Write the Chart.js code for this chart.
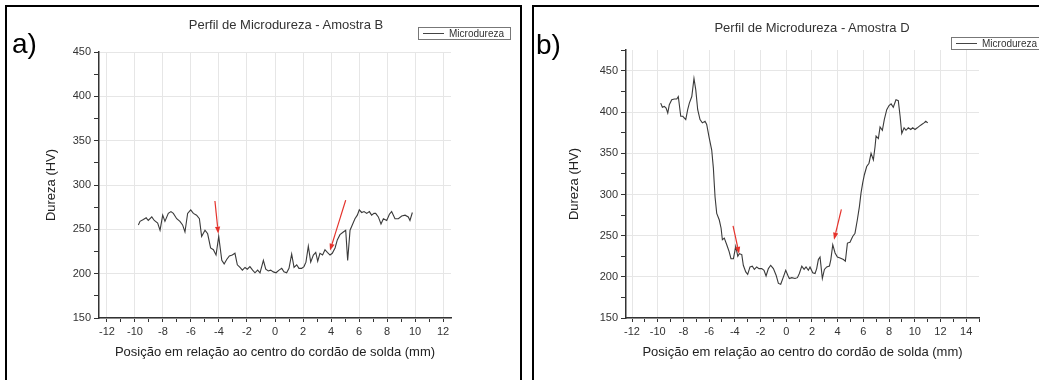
<!DOCTYPE html>
<html lang="pt">
<head>
    <meta charset="UTF-8">
    <title>Perfil de Microdureza</title>
    <script src="https://cdn.jsdelivr.net/npm/chart.js"></script>
    <style>
        html, body { margin: 0; padding: 0; background: #fff; }
        body { width: 1039px; height: 380px; position: relative; overflow: hidden;
               font-family: "Liberation Sans", Arial, sans-serif; color: #222; }
        canvas { position: absolute; top: 0; }
        .frame { position: absolute; border: 2px solid #000; box-sizing: border-box; }
        .tag { position: absolute; font-size: 28px; line-height: 28px; color: #000; }
        .title { position: absolute; width: 320px; text-align: center; font-size: 13px; line-height: 14px; color: #333; }
        .legend { position: absolute; height: 13px; border: 1px solid #777; box-sizing: border-box;
                  font-size: 10px; line-height: 11px; color: #333; white-space: nowrap; overflow: hidden; background: #fff; }
        .legend span { display: inline-block; width: 21px; height: 0; border-top: 1px solid #444;
                       vertical-align: middle; margin: 0 5px 0 4px; position: relative; top: -1px; }
    </style>
</head>
<body>
    <div class="frame" style="left:5px; top:5px; width:517px; height:390px;"></div>
    <div class="frame" style="left:532px; top:5px; width:520px; height:390px;"></div>

    <canvas id="chartA" width="520" height="380" style="left:0;"></canvas>
    <canvas id="chartB" width="507" height="380" style="left:532px;"></canvas>

    <div class="tag" style="left:12px; top:30px;">a)</div>
    <div class="tag" style="left:536px; top:31px;">b)</div>
    <div class="title" style="left:126px; top:18px;">Perfil de Microdureza - Amostra B</div>
    <div class="title" style="left:652px; top:21px;">Perfil de Microdureza - Amostra D</div>
    <div class="legend" style="left:418px; top:27px; width:93px;"><span></span>Microdureza</div>
    <div class="legend" style="left:951px; top:37px; width:95px;"><span></span>Microdureza</div>

    <script>
        // Amostra B
        const posA = [-9.76, -9.64, -9.4, -9.2, -9.05, -8.8, -8.62, -8.38, -8.21, -8.02, -7.86, -7.62, -7.43, -7.26,
            -7.02, -6.79, -6.6, -6.43, -6.24, -6.02, -5.83, -5.6, -5.4, -5.24, -5.0, -4.81, -4.6, -4.4, -4.21, -4.02,
            -3.8, -3.63, -3.45, -3.26, -3.05, -2.86, -2.69, -2.5, -2.33, -2.14, -1.98, -1.79, -1.6, -1.43, -1.24,
            -1.07, -0.83, -0.66, -0.48, -0.31, -0.12, 0.07, 0.29, 0.48, 0.64, 0.83, 1.0, 1.19, 1.36, 1.55, 1.71, 1.9,
            2.07, 2.21, 2.38, 2.55, 2.74, 2.91, 3.05, 3.21, 3.4, 3.57, 3.74, 3.93, 4.09, 4.29, 4.45, 4.64, 4.88, 5.05,
            5.19, 5.36, 5.55, 5.71, 5.88, 6.02, 6.19, 6.36, 6.55, 6.74, 6.9, 7.07, 7.19, 7.38, 7.57, 7.74, 7.98, 8.17,
            8.33, 8.57, 8.81, 9.05, 9.29, 9.52, 9.64, 9.81];
        const durA = [255, 259, 261, 263, 260, 264, 260, 257, 249, 266, 259, 268, 270, 268,
            262, 259, 255, 247, 268, 272, 268, 266, 262, 242, 249, 245, 229, 227, 221, 242,
            215, 211, 216, 220, 221, 223, 210, 207, 204, 207, 205, 208, 204, 201, 204,
            201, 215, 205, 203, 204, 202, 201, 204, 206, 202, 201, 206, 222, 207, 210, 206, 206,
            208, 213, 231, 213, 221, 224, 214, 223, 221, 227, 224, 221, 223, 229, 238, 244, 247, 249,
            215, 249, 256, 262, 266, 272, 269, 270, 268, 270, 266, 268, 268, 264, 256, 262, 260, 267,
            270, 262, 262, 265, 266, 264, 260, 269];

        // Amostra D
        const posB = [-9.77, -9.64, -9.49, -9.35, -9.22, -9.1, -8.91, -8.71, -8.52, -8.4, -8.21, -8.05, -7.82, -7.67,
            -7.54, -7.35, -7.18, -7.04, -6.89, -6.71, -6.53, -6.32, -6.19, -6.01, -5.8, -5.67, -5.62, -5.54, -5.41,
            -5.21, -5.07, -4.97, -4.82, -4.63, -4.45, -4.3, -4.11, -3.93, -3.77, -3.65, -3.46, -3.34, -3.15, -3.0,
            -2.82, -2.64, -2.48, -2.3, -2.12, -1.91, -1.73, -1.57, -1.39, -1.21, -1.0, -0.79, -0.61, -0.43, -0.22,
            -0.04, 0.12, 0.24, 0.43, 0.68, 0.87, 1.02, 1.21, 1.39, 1.54, 1.72, 1.85, 2.06, 2.24, 2.37, 2.5, 2.63,
            2.81, 2.97, 3.15, 3.36, 3.47, 3.62, 3.8, 3.98, 4.19, 4.45, 4.6, 4.76, 4.96, 5.17, 5.35, 5.53, 5.69, 5.82,
            5.95, 6.08, 6.26, 6.44, 6.6, 6.78, 6.91, 6.99, 7.17, 7.3, 7.48, 7.63, 7.82, 8.0, 8.16, 8.33, 8.54, 8.72,
            8.86, 8.99, 9.17, 9.32, 9.5, 9.69, 9.84, 10.02, 10.2, 10.36, 10.54, 10.72, 10.86, 11.01];
        const durB = [411, 406, 407, 405, 399, 409, 415, 416, 416, 419, 395, 395, 391, 403,
            411, 419, 441, 427, 403, 391, 387, 389, 385, 370, 354, 332, 318, 297, 277,
            269, 259, 245, 247, 239, 231, 222, 222, 237, 225, 228, 227, 214, 206, 203,
            212, 213, 209, 212, 210, 210, 208, 201, 210, 214, 210, 202, 192, 191, 200,
            208, 202, 198, 199, 198, 199, 204, 213, 209, 212, 208, 212, 205, 204, 210, 221, 224,
            198, 209, 212, 213, 221, 239, 229, 224, 223, 221, 219, 241, 242, 249, 253, 269, 285, 302,
            314, 324, 334, 338, 350, 342, 358, 371, 368, 382, 378, 391, 403, 408, 410, 406, 415, 414,
            395, 374, 381, 378, 381, 379, 381, 379, 381, 383, 385, 387, 389, 387];

        // ticks (odd values are minor ticks without labels)
        const xTicksA = [-12, -11, -10, -9, -8, -7, -6, -5, -4, -3, -2, -1, 0, 1, 2, 3, 4, 5, 6, 7, 8, 9, 10, 11, 12];
        const xTicksB = [-12, -11, -10, -9, -8, -7, -6, -5, -4, -3, -2, -1, 0, 1, 2, 3, 4, 5, 6, 7, 8, 9, 10, 11, 12, 13, 14, 15];
        const yTicksA = [150, 175, 200, 225, 250, 275, 300, 325, 350, 375, 400, 425, 450];
        const yTicksB = [150, 175, 200, 225, 250, 275, 300, 325, 350, 375, 400, 425, 450, 475];

        // red arrows: [x start, y start, x end, y end] in data units
        const arrowsA = [[-4.29, 282, -4.05, 245], [5.05, 283, 3.93, 226]];
        const arrowsB = [[-4.14, 262, -3.67, 228], [4.29, 282, 3.72, 245]];

        const FONT = '"Liberation Sans", Arial, sans-serif';

        const arrowPlugin = {
            id: 'arrows',
            afterDatasetsDraw(chart, args, opts) {
                const ctx = chart.ctx;
                const sx = chart.scales.x, sy = chart.scales.y;
                ctx.save();
                ctx.strokeStyle = '#e5322b';
                ctx.fillStyle = '#e5322b';
                ctx.lineWidth = 1.2;
                opts.list.forEach(a => {
                    let x1 = sx.getPixelForValue(a[0]), y1 = sy.getPixelForValue(a[1]);
                    let x2 = sx.getPixelForValue(a[2]), y2 = sy.getPixelForValue(a[3]);
                    let ang = Math.atan2(y2 - y1, x2 - x1);
                    let len = 7, w = 2.6;
                    let bx = x2 - len * Math.cos(ang), by = y2 - len * Math.sin(ang);
                    ctx.beginPath();
                    ctx.moveTo(x1, y1);
                    ctx.lineTo(bx, by);
                    ctx.stroke();
                    ctx.beginPath();
                    ctx.moveTo(x2, y2);
                    ctx.lineTo(bx + w * Math.sin(ang), by - w * Math.cos(ang));
                    ctx.lineTo(bx - w * Math.sin(ang), by + w * Math.cos(ang));
                    ctx.closePath();
                    ctx.fill();
                });
                ctx.restore();
            }
        };

        function makeChart(id, xs, ys, xTicks, yTicks, xMin, xMax, yMax, arrows, pad, yWidth) {
            let points = xs.map((x, i) => ({ x: x, y: ys[i] }));
            new Chart(document.getElementById(id), {
                type: 'line',
                data: {
                    datasets: [{
                        label: 'Microdureza',
                        data: points,
                        borderColor: '#3a3a3a',
                        borderWidth: 1.1,
                        pointRadius: 0,
                        tension: 0,
                        fill: false
                    }]
                },
                options: {
                    responsive: false,
                    animation: false,
                    events: [],
                    layout: { padding: pad },
                    plugins: {
                        legend: { display: false },
                        tooltip: { enabled: false },
                        arrows: { list: arrows }
                    },
                    scales: {
                        x: {
                            type: 'linear',
                            min: xMin,
                            max: xMax,
                            afterBuildTicks: s => { s.ticks = xTicks.map(v => ({ value: v })); },
                            afterFit: s => { s.height = 42; },
                            ticks: {
                                autoSkip: false,
                                maxRotation: 0,
                                minRotation: 0,
                                padding: 3,
                                color: '#333',
                                font: { family: FONT, size: 11 },
                                callback: v => (v % 2 === 0 ? String(v) : '')
                            },
                            grid: {
                                color: c => (c.tick && c.tick.value % 2 === 0 ? '#e6e6e6' : 'rgba(0,0,0,0)'),
                                tickColor: '#333',
                                tickLength: 4,
                                lineWidth: 1
                            },
                            border: { color: '#333', width: 1.5 },
                            title: {
                                display: true,
                                text: 'Posição em relação ao centro do cordão de solda (mm)',
                                color: '#222',
                                padding: 0,
                                font: { family: FONT, size: 13 }
                            }
                        },
                        y: {
                            type: 'linear',
                            min: 150,
                            max: yMax,
                            afterBuildTicks: s => { s.ticks = yTicks.map(v => ({ value: v })); },
                            afterFit: s => { s.width = yWidth; },
                            ticks: {
                                autoSkip: false,
                                padding: 3,
                                color: '#333',
                                font: { family: FONT, size: 11 },
                                callback: v => (v % 50 === 0 ? String(v) : '')
                            },
                            grid: {
                                color: c => (c.tick && c.tick.value % 50 === 0 ? '#e6e6e6' : 'rgba(0,0,0,0)'),
                                tickColor: '#333',
                                tickLength: 5,
                                lineWidth: 1
                            },
                            border: { color: '#333', width: 1.5 },
                            title: {
                                display: true,
                                text: 'Dureza (HV)',
                                color: '#222',
                                padding: 0,
                                font: { family: FONT, size: 13 }
                            }
                        }
                    }
                },
                plugins: [arrowPlugin]
            });
        }

        makeChart('chartA', posA, durA, xTicksA, yTicksA, -12.57, 12.57, 450, arrowsA,
            { left: 44, top: 52, right: 69, bottom: 20 }, 55);
        makeChart('chartB', posB, durB, xTicksB, yTicksB, -12.47, 15.0, 475.5, arrowsB,
            { left: 35, top: 50, right: 60, bottom: 20 }, 59);
    </script>
</body>
</html>
